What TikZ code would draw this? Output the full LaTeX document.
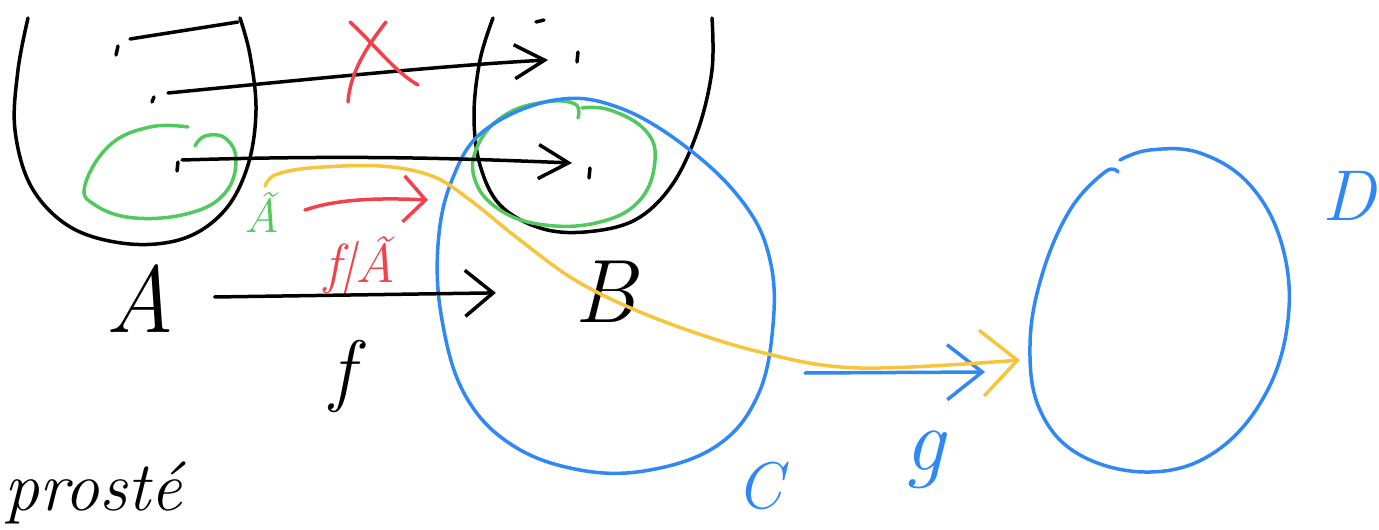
\documentclass[tikz,border=0pt]{standalone}
\usepackage{tikz}
\usetikzlibrary{arrows.meta}

\definecolor{inkred}{HTML}{F2414B}
\definecolor{inkgreen}{HTML}{52C95E}
\definecolor{inkblue}{HTML}{2F88F5}
\definecolor{inkyellow}{HTML}{F7C53C}

\begin{document}
\begin{tikzpicture}[
    x=1pt, y=-1pt,
    ink/.style={line width=3.5pt, line cap=round, line join=round},
    mapto/.style={ink, -{Straight Barb[length=30pt,width=34pt]}},
    curly/.style={ink, -{Straight Barb[length=28pt,width=46pt]}},
    letter/.style={inner sep=0pt, font=\fontsize{#1}{#1}\selectfont\itshape},
]
    \useasboundingbox (0,0) rectangle (1379,530);
    \clip (0,0) rectangle (1379,530);

    % the two black sets
    \draw[ink] plot[smooth, tension=0.6] coordinates {(28,18) (18,70) (15,130) (32,188) (72,228) (130,244) (185,238) (225,210) (248,165) (256,110) (250,55) (240,18)};
    \draw[ink] plot[smooth, tension=0.6] coordinates {(493,18) (480,60) (474,115) (480,165) (500,205) (540,228) (585,232) (635,220) (672,185) (698,130) (712,70) (712,18)};

    % green subsets
    \draw[ink, inkgreen] plot[smooth, tension=0.7] coordinates {(188,127) (150,127) (110,145) (85,185) (95,205) (135,218) (190,213) (225,193) (236,160) (225,138) (205,136) (195,146)};
    \draw[ink, inkgreen] plot[smooth, tension=0.7] coordinates {(578,118) (575,104) (545,102) (505,115) (478,145) (475,180) (500,210) (545,225) (600,222) (640,200) (655,160) (645,130) (610,110) (582,108)};

    % blue sets
    \draw[ink, inkblue] plot[smooth cycle, tension=0.65] coordinates {(555,100) (620,108) (690,150) (745,205) (770,260) (773,325) (758,395) (718,445) (650,470) (580,470) (512,445) (465,395) (442,320) (438,245) (452,180) (485,130)};
    \draw[ink, inkblue] plot[smooth, tension=0.65] coordinates {(1120,160) (1150,150) (1200,153) (1250,185) (1282,245) (1288,320) (1265,395) (1215,452) (1150,472) (1080,455) (1040,410) (1030,345) (1042,275) (1070,210) (1105,172) (1118,172)};

    % elements
    \coordinate (a1) at (130,39);
    \coordinate (a2) at (168,93);
    \coordinate (a3) at (182,160);
    \coordinate (b1) at (238,22);
    \coordinate (b2) at (548,60);
    \coordinate (b3) at (572,163);
    \draw[ink] (118,46) -- (116,55);
    \draw[ink] (154,97) -- (152,102);
    \draw[ink] (178,162) -- (177,171);
    \draw[ink] (578,52) -- (577,62);
    \draw[ink] (590,168) -- (589,178);
    \draw[ink] (536,22) -- (544,20);
    \draw[ink] (a1) -- (b1);
    \draw[mapto] (a2) .. controls (300,80) and (450,65) .. (b2);
    \draw[mapto] (a3) .. controls (350,155) and (450,158) .. (b3);

    % red cross
    \draw[ink, inkred] (350,22) .. controls (375,45) and (395,72) .. (418,85);
    \draw[ink, inkred] (386,22) .. controls (368,45) and (350,72) .. (348,102);

    % labels
    \node[letter=95, anchor=base] (labA) at (140,332) {A};
    \node[letter=90, anchor=base] (labB) at (605,322) {B};
    \node[letter=80, anchor=base] (labF) at (342,396) {f};
    \node[letter=48, anchor=base, text=inkgreen] (labAt) at (262,232) {Ã};
    \node[letter=55, anchor=base, text=inkred] (labRestr) at (360,282) {f|Ã};
    \node[letter=66, anchor=base, text=inkblue] (labC) at (760,508) {C};
    \node[letter=90, anchor=base, text=inkblue] (labG) at (925,470) {g};
    \node[letter=72, anchor=base east, text=inkblue] (labD) at (1376,220) {D};
    \node[letter=70, anchor=base west] (prosto) at (4,510) {prosté};

    % maps
    \draw[curly, shorten <=40pt, shorten >=78pt] (labA) -- (labB);
    \coordinate (r1) at (305,210);
    \coordinate (r2) at (428,200);
    \draw[ink, inkred, -{Straight Barb[length=22pt,width=46pt]}] (r1) .. controls (340,198) and (385,198) .. (r2);
    \coordinate (gs) at (805,373);
    \coordinate (ge) at (985,372);
    \draw[ink, inkblue, -{Straight Barb[length=35pt,width=55pt]}] (gs) -- (ge);
    \draw[ink, inkyellow, -{Straight Barb[length=36pt,width=66pt]}] plot[smooth, tension=0.6] coordinates {(265,186) (275,175) (310,168) (380,166) (432,176) (470,200) (520,240) (580,283) (660,320) (760,352) (860,368) (1020,360)};
\end{tikzpicture}
\end{document}
